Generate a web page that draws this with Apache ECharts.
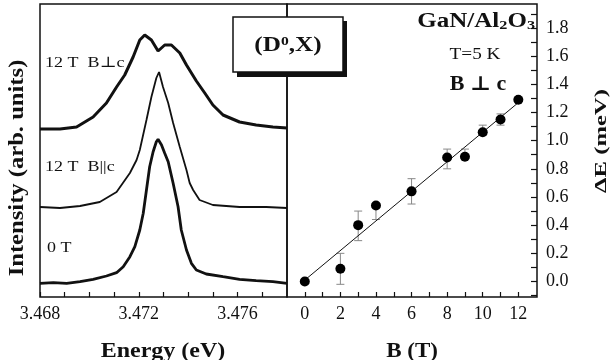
<!DOCTYPE html>
<html>
<head>
<meta charset="utf-8">
<script src="https://cdn.jsdelivr.net/npm/echarts@6.0.0/dist/echarts.min.js"></script>
<style>
  html, body { margin: 0; padding: 0; background: #fff; }
  #chart { width: 611px; height: 360px; }
</style>
</head>
<body>
<div id="chart"></div>
<script>
// left panel: PL spectra, energy (eV) vs intensity (arb. units)
var energy0T = [3.46800, 3.46854, 3.46908, 3.46962, 3.47015, 3.47069, 3.47110, 3.47137, 3.47164, 3.47184, 3.47204, 3.47218, 3.47231, 3.47244, 3.47258, 3.47271, 3.47278, 3.47292, 3.47305, 3.47319, 3.47339, 3.47359, 3.47372, 3.47393, 3.47413, 3.47433, 3.47473, 3.47541, 3.47608, 3.47675, 3.47743, 3.47800];
var int0T = [13.7, 14.3, 13.7, 15.3, 17.7, 21, 24.3, 30.3, 40.3, 50.3, 67, 83.7, 107, 130.3, 145.3, 155.3, 157.7, 152, 143.7, 135.3, 113.7, 90.3, 67, 47, 33.7, 27, 23, 20.3, 17.7, 16.3, 15.3, 13.7];

var energyPar = [3.46800, 3.46881, 3.46962, 3.47042, 3.47110, 3.47164, 3.47191, 3.47204, 3.47231, 3.47251, 3.47271, 3.47282, 3.47298, 3.47319, 3.47339, 3.47366, 3.47393, 3.47406, 3.47420, 3.47446, 3.47500, 3.47608, 3.47716, 3.47800];
var intPar = [90, 89, 91, 95, 105, 124, 137, 147, 177, 200, 219, 225, 210, 194, 174, 150, 127, 114, 107, 97, 92, 90, 90, 89];

var energyPerp = [3.46800, 3.46881, 3.46948, 3.47015, 3.47069, 3.47110, 3.47143, 3.47177, 3.47204, 3.47224, 3.47251, 3.47278, 3.47305, 3.47332, 3.47366, 3.47393, 3.47433, 3.47467, 3.47500, 3.47541, 3.47608, 3.47675, 3.47743, 3.47800];
var intPerp = [168, 168, 170, 180, 194, 210, 222, 240, 257, 262, 257, 246, 252, 252, 244, 232, 216, 204, 192, 182, 175, 172, 170, 169];

var energyLabels = [3.468, 3.472, 3.476];
var energyTicks = [3.468, 3.469, 3.470, 3.471, 3.472, 3.473, 3.474, 3.475, 3.476, 3.477];

// right panel: splitting vs field
var fieldB = [0, 2, 3, 4, 6, 8, 9, 10, 11, 12];
var deltaE = [0.0, 0.09, 0.40, 0.54, 0.64, 0.88, 0.885, 1.06, 1.15, 1.29];
var errLow = [0.0, -0.02, 0.29, 0.44, 0.55, 0.80, 0.88, 1.04, 1.11, 1.29];
var errHigh = [0.0, 0.20, 0.50, 0.54, 0.73, 0.94, 0.94, 1.11, 1.19, 1.29];
var fitB = [0, 12];
var fitE = [0.01, 1.27];

var fieldLabels = [0, 2, 4, 6, 8, 10, 12];
var fieldTicks = [0, 1, 2, 3, 4, 5, 6, 7, 8, 9, 10, 11, 12];
var deltaLabels = [0, 0.2, 0.4, 0.6, 0.8, 1.0, 1.2, 1.4, 1.6, 1.8];
var deltaTicks = [-0.1, 0, 0.1, 0.2, 0.3, 0.4, 0.5, 0.6, 0.7, 0.8, 0.9, 1.0, 1.1, 1.2, 1.3, 1.4, 1.5, 1.6, 1.7, 1.8, 1.9];

var serif = '"Liberation Serif", "DejaVu Serif", serif';

function pairs(xs, ys) {
    return xs.map(function (x, i) { return [x, ys[i]]; });
}

// scanned figure has wide lettering, so text gets a horizontal stretch
function label(x, y, text, font, opts) {
    opts = opts || {};
    return {
        type: 'text', x: x, y: y, z: opts.z || 20,
        rotation: opts.rotation || 0, scaleX: opts.scaleX || 1.2,
        style: {
            text: text, font: font, fill: '#111',
            align: opts.align || 'center', verticalAlign: 'middle', rich: opts.rich
        }
    };
}

var myChart = echarts.init(document.getElementById('chart'));

var option = {
    backgroundColor: '#fff',
    animation: false,
    grid: [
        { left: 40, top: 4, width: 247, height: 293, show: true, borderColor: '#111', borderWidth: 1.5, backgroundColor: 'transparent' },
        { left: 287, top: 4, width: 250, height: 293, show: true, borderColor: '#111', borderWidth: 1.5, backgroundColor: 'transparent' }
    ],
    xAxis: [
        {
            gridIndex: 0, type: 'value', min: 3.468, max: 3.478,
            axisLine: { show: false, onZero: false },
            splitLine: { show: false },
            axisTick: { inside: true, length: 5, customValues: energyTicks, lineStyle: { color: '#111', width: 1.2 } },
            axisLabel: { customValues: energyLabels, margin: 8, fontFamily: serif, fontSize: 18, color: '#111',
                formatter: function (v) { return v.toFixed(3); } }
        },
        {
            gridIndex: 1, type: 'value', min: -1, max: 13.05,
            axisLine: { show: false, onZero: false },
            splitLine: { show: false },
            axisTick: { inside: true, length: 5, customValues: fieldTicks, lineStyle: { color: '#111', width: 1.2 } },
            axisLabel: { customValues: fieldLabels, margin: 8, fontFamily: serif, fontSize: 18, color: '#111' }
        }
    ],
    yAxis: [
        {
            gridIndex: 0, type: 'value', min: 0, max: 293,
            axisLine: { show: false, onZero: false }, axisTick: { show: false },
            axisLabel: { show: false }, splitLine: { show: false }
        },
        {
            gridIndex: 1, type: 'value', position: 'right', min: -0.11, max: 1.97,
            axisLine: { show: false, onZero: false },
            splitLine: { show: false },
            axisTick: { inside: true, length: 6, customValues: deltaTicks, lineStyle: { color: '#111', width: 1.2 } },
            axisLabel: { customValues: deltaLabels, margin: 9, fontFamily: serif, fontSize: 18, color: '#111',
                formatter: function (v) { return v.toFixed(1); } }
        }
    ],
    series: [
        {
            name: '0 T', type: 'line', xAxisIndex: 0, yAxisIndex: 0,
            data: pairs(energy0T, int0T), showSymbol: false,
            lineStyle: { color: '#111', width: 2.8 }
        },
        {
            name: '12 T B||c', type: 'line', xAxisIndex: 0, yAxisIndex: 0,
            data: pairs(energyPar, intPar), showSymbol: false,
            lineStyle: { color: '#111', width: 1.8 }
        },
        {
            name: '12 T B⊥c', type: 'line', xAxisIndex: 0, yAxisIndex: 0,
            data: pairs(energyPerp, intPerp), showSymbol: false,
            lineStyle: { color: '#111', width: 3 }
        },
        {
            name: 'fit', type: 'line', xAxisIndex: 1, yAxisIndex: 1,
            data: pairs(fitB, fitE), showSymbol: false,
            lineStyle: { color: '#111', width: 1 }
        },
        {
            name: 'error', type: 'custom', xAxisIndex: 1, yAxisIndex: 1,
            data: fieldB.map(function (b, i) { return [b, errLow[i], errHigh[i]]; }),
            encode: { x: 0, y: [1, 2] },
            renderItem: function (params, api) {
                var lo = api.coord([api.value(0), api.value(1)]);
                var hi = api.coord([api.value(0), api.value(2)]);
                var w = 4;
                var st = { stroke: '#888', lineWidth: 1 };
                return {
                    type: 'group',
                    children: [
                        { type: 'line', shape: { x1: lo[0], y1: lo[1], x2: hi[0], y2: hi[1] }, style: st },
                        { type: 'line', shape: { x1: lo[0] - w, y1: lo[1], x2: lo[0] + w, y2: lo[1] }, style: st },
                        { type: 'line', shape: { x1: hi[0] - w, y1: hi[1], x2: hi[0] + w, y2: hi[1] }, style: st }
                    ]
                };
            }
        },
        {
            name: 'ΔE', type: 'scatter', xAxisIndex: 1, yAxisIndex: 1,
            data: pairs(fieldB, deltaE), symbol: 'circle', symbolSize: 10,
            itemStyle: { color: '#000', opacity: 1 }, z: 5
        }
    ],
    graphic: [
        // axis titles
        label(163, 352, 'Energy (eV)', 'bold 20px ' + serif),
        label(412, 352, 'B (T)', 'bold 20px ' + serif, { scaleX: 1.15 }),
        label(18, 168, 'Intensity (arb. units)', 'bold 20px ' + serif, { rotation: Math.PI / 2, scaleX: 1.23 }),
        label(602, 141, 'ΔE (meV)', 'bold 17px ' + serif, { rotation: Math.PI / 2, scaleX: 1.45 }),
        // curve labels
        label(45, 63, '12 T  B⊥c', '15px ' + serif, { align: 'left' }),
        label(45, 167, '12 T  B||c', '15px ' + serif, { align: 'left' }),
        label(47, 248, '0 T', '15px ' + serif, { align: 'left' }),
        // (D0,X) box with shadow
        { type: 'rect', shape: { x: 237, y: 21, width: 110, height: 56 }, style: { fill: '#111' }, z: 10 },
        { type: 'rect', shape: { x: 233, y: 17, width: 110, height: 55 }, style: { fill: '#fff', stroke: '#111', lineWidth: 1.5 }, z: 11 },
        label(288, 46, '{b|(D}{s|0}{b|,X)}', 'bold 21px ' + serif, { rich: {
            b: { font: 'bold 21px ' + serif, fill: '#111' },
            s: { font: 'bold 13px ' + serif, fill: '#111', verticalAlign: 'top', padding: [0, 0, 8, 0] }
        } }),
        // sample annotations
        label(535, 22, '{b|GaN/Al}{s|2}{b|O}{s|3}', 'bold 20px ' + serif, { align: 'right', scaleX: 1.25, rich: {
            b: { font: 'bold 20px ' + serif, fill: '#111' },
            s: { font: 'bold 13px ' + serif, fill: '#111', verticalAlign: 'bottom', padding: [8, 0, 0, 0] }
        } }),
        label(475, 55, 'T=5 K', '16px ' + serif),
        label(478, 85, 'B ⊥ c', 'bold 20px ' + serif, { scaleX: 1.1 })
    ]
};

myChart.setOption(option);
</script>
</body>
</html>
